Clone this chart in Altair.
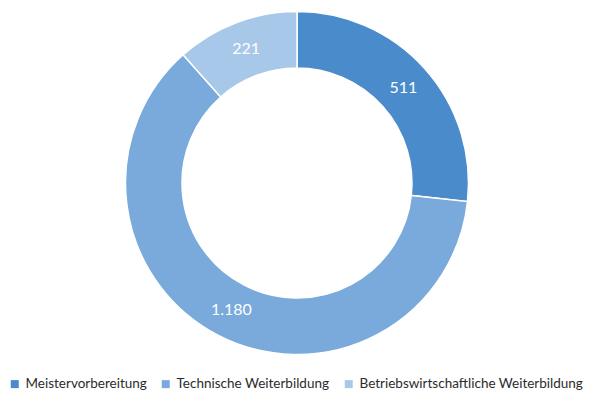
import altair as alt
import pandas as pd

categories = ["Meistervorbereitung", "Technische Weiterbildung", "Betriebswirtschaftliche Weiterbildung"]
values = [511, 1180, 221]
labels = ["511", "1.180", "221"]
colors = ["#4a8bcc", "#79aadb", "#a7c8e8"]

df = pd.DataFrame({"kategorie": categories, "wert": values, "label": labels, "ord": [0, 1, 2]})

base = alt.Chart(df).encode(
    theta=alt.Theta("wert:Q", stack=True),
    order=alt.Order("ord:Q"),
    x=alt.value(289),
    y=alt.value(172),
)

arc = base.mark_arc(innerRadius=115, outerRadius=171.5, stroke="white", strokeWidth=1.5).encode(
    color=alt.Color(
        "kategorie:N",
        scale=alt.Scale(domain=categories, range=colors),
        sort=categories,
        legend=alt.Legend(
            title=None,
            orient="none",
            legendX=0,
            legendY=366,
            padding=0,
            direction="horizontal",
            symbolType="square",
            symbolSize=64,
            symbolStrokeWidth=0,
            labelFont="Lato",
            labelFontSize=13.5,
            labelColor="#2b2b2b",
            labelLimit=0,
            columnPadding=12,
            symbolOffset=0,
            labelOffset=4,
        ),
    )
)

text = base.mark_text(radius=143, font="Lato", fontSize=16, color="white").encode(
    text="label:N"
)

chart = (arc + text).properties(width=584, height=379).configure_view(stroke=None).properties(
    padding=0
)

chart.save("out.html", embed_options={"renderer": "svg", "actions": False})
